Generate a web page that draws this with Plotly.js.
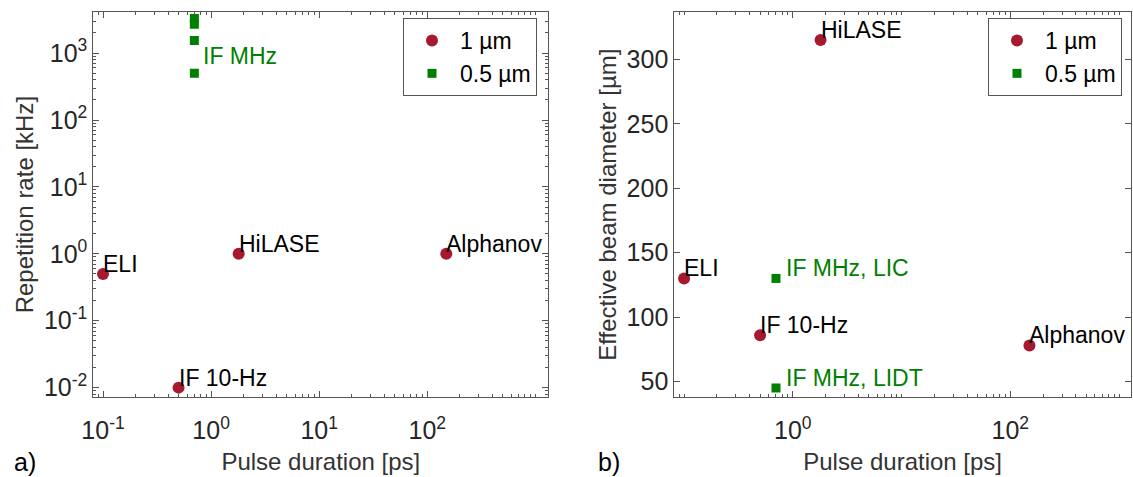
<!DOCTYPE html>
<html>
<head>
<meta charset="utf-8">
<script src="https://cdn.plot.ly/plotly-3.0.1.min.js"></script>
<style>html,body{margin:0;padding:0;background:#fff;}#chart{width:1133px;height:477px;}</style>
</head>
<body>
<div id="chart"></div>
<script>
// ---- data ----
const seriesNames = ['1 µm', '0.5 µm'];

// panel a) repetition rate vs pulse duration
const aRedNames = ['ELI', 'IF 10-Hz', 'HiLASE', 'Alphanov'];
const aRedPulse = [0.1, 0.5, 1.8, 150];
const aRedRate = [0.5, 0.01, 1, 1];
const aGreenPulse = [0.7, 0.7, 0.7, 0.7];
const aGreenRate = [3300, 2700, 1550, 500];
const aGreenLabel = 'IF MHz';

// panel b) effective beam diameter vs pulse duration
const bRedNames = ['ELI', 'IF 10-Hz', 'HiLASE', 'Alphanov'];
const bRedPulse = [0.1, 0.5, 1.8, 150];
const bRedDiam = [130, 86, 315, 78];
const bGreenNames = ['IF MHz, LIC', 'IF MHz, LIDT'];
const bGreenPulse = [0.7, 0.7];
const bGreenDiam = [130, 45];

// tick labels
const aXTickVals = [0.1, 1, 10, 100];
const aXTickText = ['10<sup>-1</sup>', '10<sup>0</sup>', '10<sup>1</sup>', '10<sup>2</sup>'];
const aYTickVals = [0.01, 0.1, 1, 10, 100, 1000];
const aYTickText = ['10<sup>-2</sup>', '10<sup>-1</sup>', '10<sup>0</sup>', '10<sup>1</sup>', '10<sup>2</sup>', '10<sup>3</sup>'];
const bXTickVals = [1, 100];
const bXTickText = ['10<sup>0</sup>', '10<sup>2</sup>'];

// ---- styles ----
const RED = '#A6192E';
const GREEN = '#008000';
const FONT = 'Liberation Sans, Arial, sans-serif';
const W = 1133, H = 477;
const LABEL_SIZE = 23;

const traces = [
  {x: aRedPulse, y: aRedRate, xaxis: 'x', yaxis: 'y', legend: 'legend', name: seriesNames[0], type: 'scatter', mode: 'markers',
   marker: {color: RED, size: 12, symbol: 'circle'}},
  {x: aGreenPulse, y: aGreenRate, xaxis: 'x', yaxis: 'y', legend: 'legend', name: seriesNames[1], type: 'scatter', mode: 'markers',
   marker: {color: GREEN, size: 9, symbol: 'square'}},
  {x: bRedPulse, y: bRedDiam, xaxis: 'x2', yaxis: 'y2', legend: 'legend2', name: seriesNames[0], type: 'scatter', mode: 'markers',
   marker: {color: RED, size: 12, symbol: 'circle'}},
  {x: bGreenPulse, y: bGreenDiam, xaxis: 'x2', yaxis: 'y2', legend: 'legend2', name: seriesNames[1], type: 'scatter', mode: 'markers',
   marker: {color: GREEN, size: 9, symbol: 'square'}}
];

const annotations = [];
function addLabels(xs, ys, texts, xref, yref, logY, color, xshift, yshift) {
  xs.forEach((x, i) => {
    if (!texts[i]) return;
    annotations.push({
      x: Math.log10(x), y: logY ? Math.log10(ys[i]) : ys[i], xref: xref, yref: yref,
      text: texts[i], showarrow: false, xanchor: 'left', yanchor: 'bottom',
      xshift: xshift, yshift: yshift, font: {family: FONT, size: LABEL_SIZE, color: color}
    });
  });
}
addLabels(aRedPulse, aRedRate, aRedNames, 'x', 'y', true, '#000', -2, -5);
addLabels([aGreenPulse[3]], [aGreenRate[3]], [aGreenLabel], 'x', 'y', true, GREEN, 7, 2);
addLabels(bRedPulse, bRedDiam, bRedNames, 'x2', 'y2', false, '#000', -2, -5);
addLabels(bGreenPulse, bGreenDiam, bGreenNames, 'x2', 'y2', false, GREEN, 8, -5);

annotations.push({xref: 'paper', yref: 'paper', x: 12 / W, y: 1 - 462 / H, xanchor: 'left', yanchor: 'middle',
  text: 'a)', showarrow: false, font: {family: FONT, size: 25, color: '#000'}});
annotations.push({xref: 'paper', yref: 'paper', x: 596 / W, y: 1 - 462 / H, xanchor: 'left', yanchor: 'middle',
  text: 'b)', showarrow: false, font: {family: FONT, size: 25, color: '#000'}});

const axisCommon = {
  showline: true, linecolor: '#555', linewidth: 1, mirror: 'allticks',
  ticks: 'inside', ticklen: 6, tickwidth: 1, tickcolor: '#555',
  showgrid: false, zeroline: false,
  tickfont: {family: FONT, size: 25, color: '#262626'}
};
const titleFont = {family: FONT, size: 24, color: '#333'};
const minorLog = {ticks: 'inside', ticklen: 3, tickcolor: '#555', dtick: 'D1', showgrid: false};
const yDomain = [1 - 397 / H, 1 - 12.3 / H];

const legendCommon = {xanchor: 'left', yanchor: 'top', bgcolor: '#fff', itemwidth: 46,
  bordercolor: '#555', borderwidth: 1, font: {family: FONT, size: 23, color: '#000'}};

const layout = {
  width: W, height: H,
  margin: {l: 0, r: 0, t: 0, b: 0},
  paper_bgcolor: '#fff', plot_bgcolor: '#fff',
  font: {family: FONT, color: '#262626'},
  showlegend: true,
  xaxis: Object.assign({}, axisCommon, {
    domain: [93.3 / W, 548.3 / W], anchor: 'y', type: 'log', range: [-1.09, 3.12],
    tickmode: 'array', tickvals: aXTickVals, ticktext: aXTickText, minor: minorLog, ticklabelstandoff: 11,
    title: {text: 'Pulse duration [ps]', font: titleFont, standoff: 10}
  }),
  yaxis: Object.assign({}, axisCommon, {
    domain: yDomain, anchor: 'x', type: 'log', range: [-2.14, 3.61],
    tickmode: 'array', tickvals: aYTickVals, ticktext: aYTickText, minor: minorLog,
    title: {text: 'Repetition rate [kHz]', font: titleFont, standoff: 3}
  }),
  xaxis2: Object.assign({}, axisCommon, {
    domain: [674.3 / W, 1131 / W], anchor: 'y2', type: 'log', range: [-1.09, 3.11],
    tickmode: 'array', tickvals: bXTickVals, ticktext: bXTickText, minor: minorLog, ticklabelstandoff: 11,
    title: {text: 'Pulse duration [ps]', font: titleFont, standoff: 10}
  }),
  yaxis2: Object.assign({}, axisCommon, {
    domain: yDomain, anchor: 'x2', range: [38, 336.5], tick0: 0, dtick: 50,
    title: {text: 'Effective beam diameter [µm]', font: titleFont, standoff: 3}
  }),
  legend: Object.assign({x: 403 / W, y: 1 - 18 / H}, legendCommon),
  legend2: Object.assign({x: 988 / W, y: 1 - 18 / H}, legendCommon),
  annotations: annotations
};

Plotly.newPlot('chart', traces, layout, {staticPlot: true, displayModeBar: false});
</script>
</body>
</html>
